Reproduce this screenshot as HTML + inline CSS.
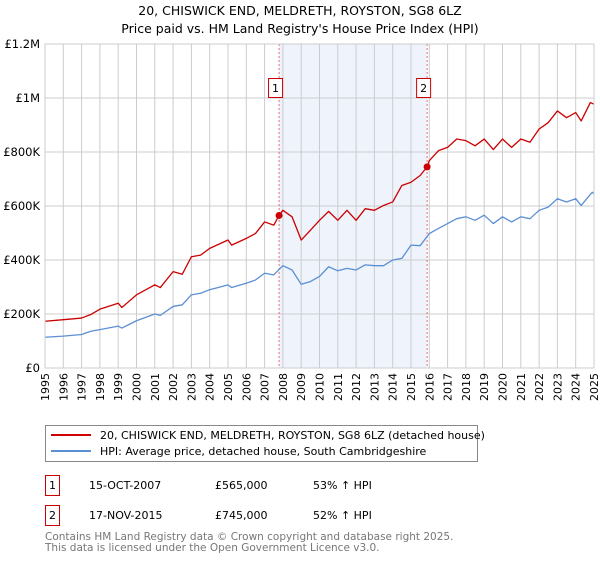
<!DOCTYPE html>
<html><head><meta charset="utf-8"><style>
body{margin:0;background:#fff;font-family:"DejaVu Sans","Liberation Sans",sans-serif;}
</style></head><body>
<svg width="600" height="560" xmlns="http://www.w3.org/2000/svg" font-family="DejaVu Sans, Liberation Sans, sans-serif">
<text x="300" y="15" text-anchor="middle" font-size="12.5">20, CHISWICK END, MELDRETH, ROYSTON, SG8 6LZ</text>
<text x="300" y="33" text-anchor="middle" font-size="12.5">Price paid vs. HM Land Registry's House Price Index (HPI)</text>
<g id="plot"></g>
<g>
<rect x="45.5" y="425.5" width="432" height="36" fill="#fff" stroke="#888"/>
<line x1="51" y1="435" x2="91" y2="435" stroke="#cc0000" stroke-width="2"/>
<text x="100" y="439" font-size="11">20, CHISWICK END, MELDRETH, ROYSTON, SG8 6LZ (detached house)</text>
<line x1="51" y1="451" x2="91" y2="451" stroke="#5b8fd4" stroke-width="2"/>
<text x="100" y="455" font-size="11">HPI: Average price, detached house, South Cambridgeshire</text>
</g>
<g font-size="11">
<rect x="45.5" y="475.5" width="14" height="20" fill="#fff" stroke="#cc0000"/>
<text x="52.5" y="489" text-anchor="middle">1</text>
<text x="89" y="489">15-OCT-2007</text><text x="215" y="489">£565,000</text><text x="313" y="489">53% ↑ HPI</text>
<rect x="45.5" y="505.5" width="14" height="20" fill="#fff" stroke="#cc0000"/>
<text x="52.5" y="519" text-anchor="middle">2</text>
<text x="89" y="519">17-NOV-2015</text><text x="215" y="519">£745,000</text><text x="313" y="519">52% ↑ HPI</text>
</g>
<text x="45" y="540" font-size="10.5" fill="#777">Contains HM Land Registry data © Crown copyright and database right 2025.</text>
<text x="45" y="551" font-size="10.5" fill="#777">This data is licensed under the Open Government Licence v3.0.</text>
</svg>
<script>
const hpiYears=[1995,1996,1997,1997.5,1998,1999,1999.2,2000,2001,2001.3,2002,2002.5,2003,2003.5,2004,2005,2005.2,2006,2006.5,2007,2007.5,2008,2008.5,2009,2009.5,2010,2010.5,2011,2011.5,2012,2012.5,2013,2013.5,2014,2014.5,2015,2015.5,2016,2016.5,2017,2017.5,2018,2018.5,2019,2019.5,2020,2020.5,2021,2021.5,2022,2022.5,2023,2023.5,2024,2024.3,2024.9,2025];
const hpiValues=[114,118,124,136,142,155,148,175,200,195,228,234,271,277,290,308,298,314,326,351,345,379,363,310,320,339,375,360,369,363,382,379,379,400,406,455,453,498,517,535,553,560,547,566,535,560,541,560,553,584,596,627,615,627,602,651,645];
const priceYears=[1995,1996,1997,1997.5,1998,1999,1999.2,2000,2001,2001.3,2002,2002.5,2003,2003.5,2004,2005,2005.2,2006,2006.5,2007,2007.5,2007.79,2008,2008.5,2009,2009.5,2010,2010.5,2011,2011.5,2012,2012.5,2013,2013.5,2014,2014.5,2015,2015.5,2015.88,2016,2016.5,2017,2017.5,2018,2018.5,2019,2019.5,2020,2020.5,2021,2021.5,2022,2022.5,2023,2023.5,2024,2024.3,2024.8,2025];
const priceValues=[173,179,185,198,218,240,224,271,308,298,357,347,412,418,443,474,455,480,498,541,529,565,584,560,474,510,547,580,547,584,547,590,584,602,615,676,688,713,745,768,805,817,848,842,823,848,809,848,817,848,836,885,909,952,927,946,915,983,977];
const saleYears=[2007.79,2015.88];
const saleValues=[565,745];
const yTicks=[0,200,400,600,800,1000,1200];
const yTickLabels=["£0","£200K","£400K","£600K","£800K","£1M","£1.2M"];
const xTicks=[1995,1996,1997,1998,1999,2000,2001,2002,2003,2004,2005,2006,2007,2008,2009,2010,2011,2012,2013,2014,2015,2016,2017,2018,2019,2020,2021,2022,2023,2024,2025];

const NS="http://www.w3.org/2000/svg";
const X0=45,X1=594,Y0=368,Y1=44;
const xs=y=>X0+(y-1995)/30*(X1-X0);
const ys=v=>Y0-v/1200*(Y0-Y1);
const g=document.getElementById('plot');
function mk(t,a){const e=document.createElementNS(NS,t);for(const k in a)e.setAttribute(k,a[k]);g.appendChild(e);return e;}
const band=mk('rect',{x:xs(saleYears[0]),y:Y1,width:xs(saleYears[1])-xs(saleYears[0]),height:Y0-Y1,fill:'#eef3fc'});


xTicks.forEach(t=>{
 const l=mk('line',{x1:xs(t),x2:xs(t),y1:Y1,y2:Y0,stroke:'#ccc'});
 
 
 const tx=mk('text',{x:0,y:0,'font-size':11,'text-anchor':'end',transform:`translate(${xs(t)+4},${Y0+5}) rotate(-90)`});
 tx.textContent=t;
 
 
});
yTicks.forEach((t,i)=>{
 const l=mk('line',{x1:X0,x2:X1,y1:ys(t),y2:ys(t),stroke:'#ccc'});
 
 
 const tx=mk('text',{x:X0-5,y:ys(t)+4,'font-size':11.5,'text-anchor':'end'});
 tx.textContent=yTickLabels[i];
 
 
});
saleYears.forEach((s,i)=>{
 const l=mk('line',{x1:xs(s),x2:xs(s),y1:Y1,y2:Y0,stroke:'#e05050','stroke-dasharray':'2,2','stroke-width':0.8});
 
 
 const r=mk('rect',{x:xs(s)-10.5,y:78.5,width:14,height:19,fill:'#fff',stroke:'#cc0000'});
 
 
 const tx=mk('text',{x:xs(s)-3.5,y:92,'font-size':11,'text-anchor':'middle'});
 tx.textContent=String(i+1);
 
 
});
function line(xa,va,c,n){
 const p=mk('polyline',{points:xa.map((x,i)=>xs(x)+','+ys(va[i])).join(' '),fill:'none',stroke:c,'stroke-width':1.3,'stroke-linejoin':'round'});
 
 
}
line(hpiYears,hpiValues,'#5b8fd4','hpi-line');
line(priceYears,priceValues,'#cc0000','price-line');
saleYears.forEach((s,i)=>{
 const c=mk('circle',{cx:xs(s),cy:ys(saleValues[i]),r:3.5,fill:'#cc0000'});
 
 
});
const ax=mk('rect',{x:X0,y:Y1,width:X1-X0,height:Y0-Y1,fill:'none',stroke:'#ccc'});


</script>
</body></html>
